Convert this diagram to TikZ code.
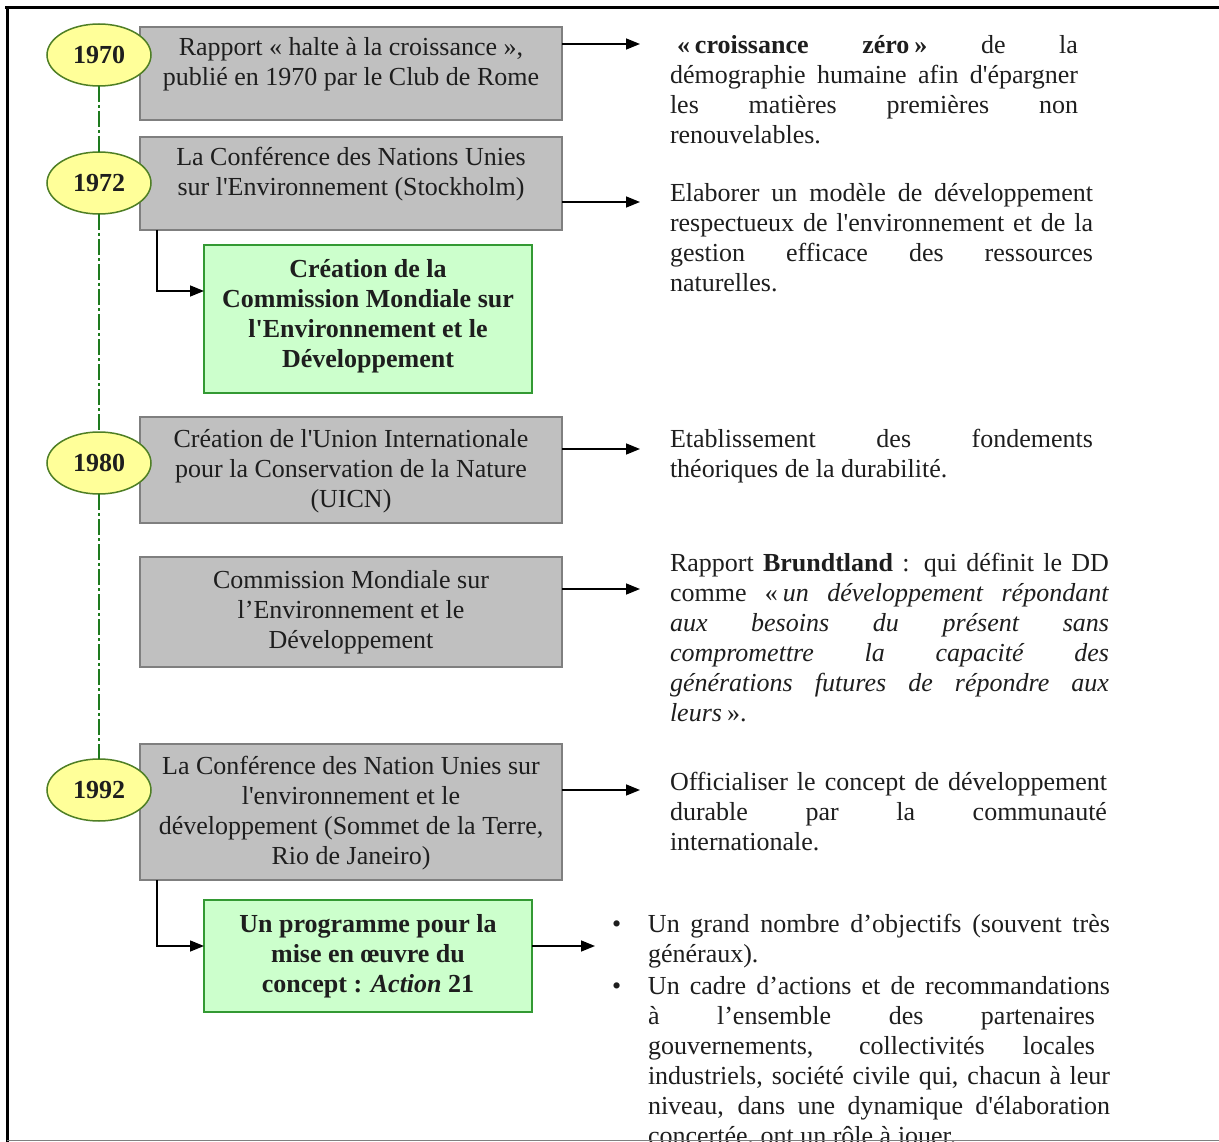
\documentclass[tikz,border=0pt]{standalone}
\usepackage{fontspec}
\setmainfont{Liberation Serif}[Ligatures=TeXOff]
\usetikzlibrary{arrows.meta,shapes.geometric}
\definecolor{boxgray}{HTML}{C0C0C0}
\definecolor{boxline}{HTML}{7F7F7F}
\definecolor{greenfill}{HTML}{CCFFCC}
\definecolor{greenline}{HTML}{339933}
\definecolor{yellowfill}{HTML}{FFFF99}
\definecolor{ellline}{HTML}{4F7F25}
\definecolor{timegreen}{HTML}{1E7A1E}
\definecolor{textdark}{HTML}{1E1E1E}
\begin{document}
\begin{tikzpicture}[x=1pt,y=-1pt,
  every node/.style={inner sep=0pt,outer sep=0pt},
  txt/.style={font=\fontsize{26}{30}\selectfont, text=textdark},
  graybox/.style={draw=boxline,line width=1.6pt,fill=boxgray,minimum width=422pt},
  greenbox/.style={draw=greenline,line width=2pt,fill=greenfill,minimum width=328pt},
  yearell/.style={ellipse,draw=ellline,line width=1.5pt,fill=yellowfill,minimum width=104pt,minimum height=62pt,font=\fontsize{26}{30}\selectfont\bfseries,text=textdark},
  arr/.style={line width=1.5pt,-{Triangle[length=14pt,width=11pt]}},
  timeline/.style={draw=timegreen,line width=2.5pt,dash pattern=on 16pt off 3pt on 3pt off 3pt},
]
\useasboundingbox (0,0) rectangle (1219,1142);
\fill[white] (0,0) rectangle (1219,1142);

% gray boxes
\node[graybox,minimum height=93pt] (B1) at (351,73.5) {};
\node[txt,align=center,anchor=north] (B1t) at (351,35) {\strut Rapport « halte à la croissance »,\\ publié en 1970 par le Club de Rome};
\node[graybox,minimum height=93pt] (B2) at (351,183.5) {};
\node[txt,align=center,anchor=north] (B2t) at (351,145) {\strut La Conférence des Nations Unies\\ sur l'Environnement (Stockholm)};
\node[graybox,minimum height=106pt] (B3) at (351,470) {};
\node[txt,align=center,anchor=north] (B3t) at (351,426) {\strut Création de l'Union Internationale\\ pour la Conservation de la Nature\\ (UICN)};
\node[graybox,minimum height=110pt] (B4) at (351,612) {};
\node[txt,align=center,anchor=north] (B4t) at (351,567) {\strut Commission Mondiale sur\\ l’Environnement et le\\ Développement};
\node[graybox,minimum height=136pt] (B5) at (351,812) {};
\node[txt,align=center,anchor=north] (B5t) at (351,753) {\strut La Conférence des Nation Unies sur\\ l'environnement et le\\ développement (Sommet de la Terre,\\ Rio de Janeiro)};

% green boxes
\node[greenbox,minimum height=148pt] (G1) at (368,319) {};
\node[txt,font=\fontsize{26}{30}\selectfont\bfseries,align=center,anchor=north] (G1t) at (368,256) {\strut Création de la\\ Commission Mondiale sur\\ l'Environnement et le\\ Développement};
\node[greenbox,minimum height=112pt] (G2) at (368,956) {};
\node[txt,font=\fontsize{26}{30}\selectfont\bfseries,align=center,anchor=north] (G2t) at (368,911) {\strut Un programme pour la\\ mise en œuvre du\\ concept : \textit{Action} 21};

% year ellipses
\node[yearell] (E70) at (99,55) {1970};
\node[yearell] (E72) at (99,183) {1972};
\node[yearell] (E80) at (99,463) {1980};
\node[yearell] (E92) at (99,790) {1992};

% timeline
\draw[timeline] (E70.south) -- (E72.north);
\draw[timeline] (E72.south) -- (E80.north);
\draw[timeline] (E80.south) -- (E92.north);

% arrow tips
\coordinate (a1) at (640,44);
\coordinate (a2) at (640,202);
\coordinate (a3) at (640,449);
\coordinate (a4) at (640,589);
\coordinate (a5) at (640,790);
\coordinate (a6) at (595,946);

\draw[arr] (B1.east |- a1) -- (a1);
\draw[arr] (B2.east |- a2) -- (a2);
\draw[arr] (B3.east |- a3) -- (a3);
\draw[arr] (B4.east |- a4) -- (a4);
\draw[arr] (B5.east |- a5) -- (a5);
\draw[arr] (G2.east |- a6) -- (a6);
\draw[arr] ([xshift=17pt]B2.south west) |- ([yshift=28pt]G1.west);
\draw[arr] ([xshift=17pt]B5.south west) |- ([yshift=10pt]G2.west);

% right-hand texts
\node[txt,align=left,anchor=north west] (T1) at (670,33) {\strut\makebox[408pt][s]{\hspace*{7pt}\textbf{«\kern5pt croissance zéro\kern5pt»} de la}\\
\makebox[408pt][s]{démographie humaine afin d'épargner}\\
\makebox[408pt][s]{les matières premières non}\\
renouvelables.};

\node[txt,align=left,anchor=north west] (T2) at (670,181) {\strut\makebox[423pt][s]{Elaborer un modèle de développement}\\
\makebox[423pt][s]{respectueux de l'environnement et de la}\\
\makebox[423pt][s]{gestion efficace des ressources}\\
naturelles.};

\node[txt,align=left,anchor=north west] (T3) at (670,426) {\strut\makebox[423pt][s]{Etablissement des fondements}\\
théoriques de la durabilité.};

\node[txt,align=left,anchor=north west] (T4) at (670,550) {\strut\makebox[439pt][s]{Rapport \textbf{Brundtland} : qui définit le DD}\\
\makebox[439pt][s]{comme «\kern5pt\textit{un développement répondant}}\\
\makebox[439pt][s]{\textit{aux besoins du présent sans}}\\
\makebox[439pt][s]{\textit{compromettre la capacité des}}\\
\makebox[439pt][s]{\textit{générations futures de répondre aux}}\\
\textit{leurs}\kern5pt».};

\node[txt,align=left,anchor=north west] (T5) at (670,769) {\strut\makebox[437pt][s]{Officialiser le concept de développement}\\
\makebox[437pt][s]{durable par la communauté}\\
internationale.};

\node[txt,align=left,anchor=north west] (T6) at (648,911) {\strut\llap{\makebox[36pt][l]{•}}\makebox[462pt][s]{Un grand nombre d’objectifs (souvent très}\\
généraux).\\[2pt]
\llap{\makebox[36pt][l]{•}}\makebox[462pt][s]{Un cadre d’actions et de recommandations}\\
\makebox[447pt][s]{à l’ensemble des partenaires}\\
\makebox[447pt][s]{gouvernements, collectivités locales}\\
\makebox[462pt][s]{industriels, société civile qui, chacun à leur}\\
\makebox[462pt][s]{niveau, dans une dynamique d'élaboration}\\
concertée, ont un rôle à jouer.};

% frame
\draw[line width=3pt] (5,8) -- (1219,8);
\draw[line width=3pt] (7,8) -- (7,1142);
\draw[gray,line width=1.5pt] (7,1140.5) -- (1219,1140.5);
\end{tikzpicture}
\end{document}
